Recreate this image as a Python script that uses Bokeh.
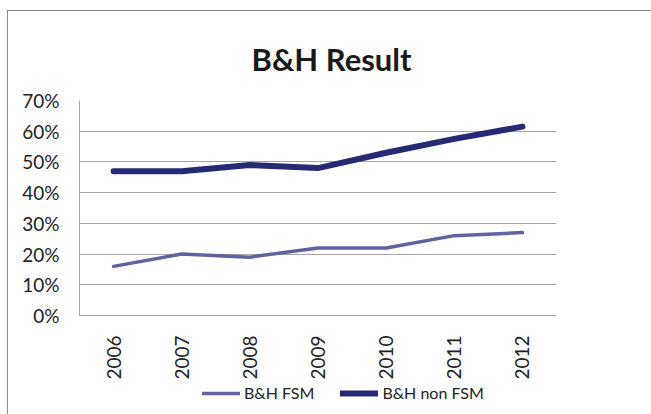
from bokeh.plotting import figure
from bokeh.layouts import column
from bokeh.models import NumeralTickFormatter, FixedTicker, Legend, LegendItem, Range1d, Title
from bokeh.embed import file_html
from bokeh.resources import INLINE

years = ["2006", "2007", "2008", "2009", "2010", "2011", "2012"]
fsm = [0.16, 0.20, 0.19, 0.22, 0.22, 0.26, 0.27]
non_fsm = [0.47, 0.47, 0.49, 0.48, 0.53, 0.575, 0.615]
y_ticks = [0, 0.1, 0.2, 0.3, 0.4, 0.5, 0.6, 0.7]
series_names = ["B&H FSM", "B&H non FSM"]
series_colors = ["#62629f", "#262a73"]
series_widths = [3.5, 6]

FONT = "Lato"

p = figure(x_range=years, y_range=Range1d(0, 0.7),
           frame_width=477, frame_height=215,
           output_backend="svg", toolbar_location=None,
           min_border_left=71, min_border_top=89, min_border_right=95, min_border_bottom=0)

t = Title(text="B&H Result", align="left", vertical_align="top", text_font=FONT,
          text_font_size="31px", text_font_style="bold", text_color="#1a1a1a",
          standoff=42, offset=172)
p.add_layout(t, "above")

p.line(years, fsm, line_color=series_colors[0], line_width=series_widths[0],
       line_join="round", line_cap="round")
p.line(years, non_fsm, line_color=series_colors[1], line_width=series_widths[1],
       line_join="round", line_cap="round")

p.outline_line_color = None
p.xgrid.grid_line_color = None
p.ygrid.grid_line_color = "#a6a6a6"
p.ygrid.grid_line_width = 1

p.yaxis.ticker = FixedTicker(ticks=y_ticks)
p.yaxis.formatter = NumeralTickFormatter(format="0%")
for ax in (p.xaxis[0], p.yaxis[0]):
    ax.axis_line_color = "#a6a6a6"
    ax.major_tick_line_color = None
    ax.minor_tick_line_color = None
    ax.major_label_text_font = FONT
    ax.major_label_text_font_size = "19px"
    ax.major_label_text_color = "#222222"
p.yaxis.major_label_standoff = 14
p.xaxis.major_label_standoff = 14
p.xaxis.major_label_orientation = 3.14159265 / 2

# legend strip below the chart; proxy lines use the series data but fall outside its view
p2 = figure(x_range=years, y_range=Range1d(1, 2),
            frame_width=635, frame_height=38, output_backend="svg", toolbar_location=None,
            x_axis_location=None, y_axis_location=None,
            min_border_left=0, min_border_right=0, min_border_top=0, min_border_bottom=0)
p2.outline_line_color = None
p2.xgrid.grid_line_color = None
p2.ygrid.grid_line_color = None
r1 = p2.line(years, fsm, line_color=series_colors[0], line_width=series_widths[0], line_cap="round")
r2 = p2.line(years, non_fsm, line_color=series_colors[1], line_width=series_widths[1], line_cap="round")

legend = Legend(items=[LegendItem(label=series_names[0], renderers=[r1]),
                       LegendItem(label=series_names[1], renderers=[r2])],
                orientation="horizontal", location=(194, 18),
                label_text_font=FONT, label_text_font_size="16px", label_text_color="#222222",
                glyph_width=38, glyph_height=14, spacing=26, padding=0, margin=0,
                label_standoff=4, border_line_color=None, background_fill_alpha=0)
p2.add_layout(legend, "center")

layout = column(p, p2, spacing=0,
                styles={"margin-left": "7px", "margin-top": "10px",
                        "border-left": "1px solid #8c8c8c", "border-top": "1px solid #8c8c8c"})

open("out.html", "w").write(file_html(layout, INLINE))
